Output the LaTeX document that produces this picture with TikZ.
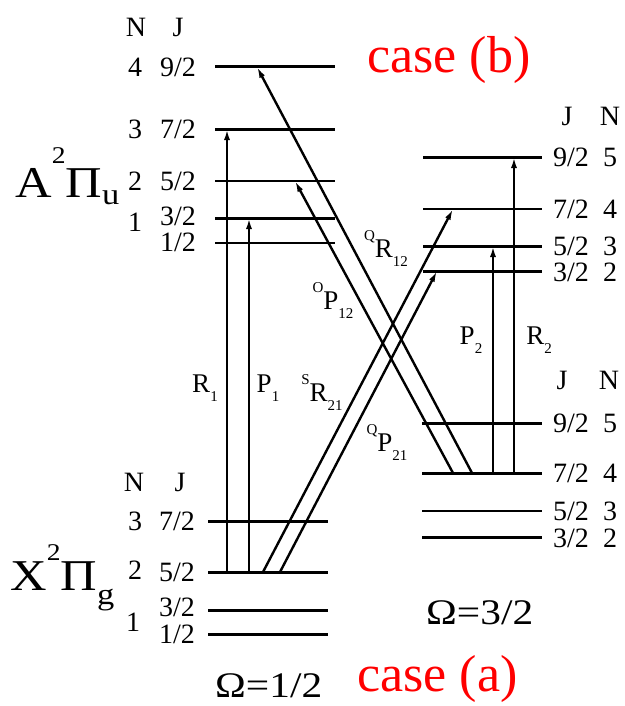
\documentclass[tikz,border=0pt]{standalone}
\usepackage{fontspec}
\setmainfont{Liberation Serif}
\usetikzlibrary{arrows.meta}
\newcommand{\lsup}[1]{\raisebox{17pt}{\fontsize{15}{15}\selectfont #1}}
\newcommand{\lsub}[1]{\raisebox{-9pt}{\fontsize{15}{15}\selectfont #1}}
\tikzset{
  lvl/.style={line width=3pt},
  lvlthin/.style={line width=2pt},
  trans/.style={line width=2.4pt, -{Latex[length=11pt,width=6pt]}},
  qn/.style={font=\fontsize{28}{30}\selectfont, inner sep=0pt},
  branch/.style={font=\fontsize{27}{29}\selectfont, inner sep=0pt},
  term/.style={font=\fontsize{44}{48}\selectfont, inner sep=0pt, xscale=1.15, anchor=base west},
  omega/.style={font=\fontsize{36}{40}\selectfont, inner sep=0pt, xscale=1.15, anchor=base west},
  casetxt/.style={font=\fontsize{52}{56}\selectfont, text=red, inner sep=0pt, anchor=base west}
}
\begin{document}
\begin{tikzpicture}[x=1pt, y=-1pt]
\useasboundingbox (0,0) rectangle (624,706);
% upper state A, Omega=1/2
\draw[lvl] (215,67) -- (335,67);
\draw[lvl] (215,129) -- (335,129);
\draw[lvlthin] (215,181) -- (335,181);
\draw[lvl] (215,218) -- (335,218);
\draw[lvlthin] (215,243) -- (335,243);
% upper state A, Omega=3/2
\draw[lvl] (423,157) -- (542,157);
\draw[lvlthin] (423,209) -- (542,209);
\draw[lvl] (423,246) -- (542,246);
\draw[lvl] (423,271) -- (542,271);
% lower state X, Omega=1/2
\draw[lvl] (208,521) -- (328,521);
\draw[lvl] (208,572) -- (328,572);
\draw[lvl] (208,610) -- (328,610);
\draw[lvl] (208,634) -- (328,634);
% lower state X, Omega=3/2
\draw[lvl] (422,423) -- (542,423);
\draw[lvl] (422,473) -- (542,473);
\draw[lvlthin] (422,511) -- (542,511);
\draw[lvl] (422,537) -- (542,537);

% arrow ends
\coordinate (R1a) at (227,572); \coordinate (R1b) at (227,129);
\coordinate (P1a) at (249,572); \coordinate (P1b) at (249,218);
\coordinate (SR21a) at (263,572); \coordinate (SR21b) at (453,209);
\coordinate (QP21a) at (280,572); \coordinate (QP21b) at (437,271);
\coordinate (QR12a) at (472,473); \coordinate (QR12b) at (257,67);
\coordinate (OP12a) at (453,473); \coordinate (OP12b) at (295,181);
\coordinate (P2a) at (493,473); \coordinate (P2b) at (493,246);
\coordinate (R2a) at (514,473); \coordinate (R2b) at (514,157);
\draw[trans] (R1a) -- (R1b);
\draw[trans] (P1a) -- (P1b);
\draw[trans] (SR21a) -- (SR21b);
\draw[trans] (QP21a) -- (QP21b);
\draw[trans] (QR12a) -- (QR12b);
\draw[trans] (OP12a) -- (OP12b);
\draw[trans] (P2a) -- (P2b);
\draw[trans] (R2a) -- (R2b);

% branch labels
\node[branch] (lR1) at (205,388) {R\lsub{1}};
\node[branch] (lP1) at (268,388) {P\lsub{1}};
\node[branch] (lSR21) at (322,393) {\lsup{S}R\lsub{21}};
\node[branch] (lQP21) at (387,443) {\lsup{Q}P\lsub{21}};
\node[branch] (lOP12) at (333,301) {\lsup{O}P\lsub{12}};
\node[branch] (lQR12) at (386,249) {\lsup{Q}R\lsub{12}};
\node[branch] (lP2) at (471,340) {P\lsub{2}};
\node[branch] (lR2) at (539,340) {R\lsub{2}};

% quantum numbers, left
\node[qn] (hNa) at (136,27) {N}; \node[qn] (hJa) at (178,27) {J};
\node[qn] at (135,67) {4}; \node[qn] at (178,67) {9/2};
\node[qn] at (135,129) {3}; \node[qn] at (178,129) {7/2};
\node[qn] at (135,181) {2}; \node[qn] at (178,181) {5/2};
\node[qn] at (135,222) {1}; \node[qn] at (178,216) {3/2};
\node[qn] at (178,242) {1/2};
\node[qn] (hNb) at (134,482) {N}; \node[qn] (hJb) at (180,482) {J};
\node[qn] at (135,521) {3}; \node[qn] at (177,521) {7/2};
\node[qn] at (135,570) {2}; \node[qn] at (177,572) {5/2};
\node[qn] at (133,622) {1}; \node[qn] at (177,607) {3/2};
\node[qn] at (177,634) {1/2};
% quantum numbers, right
\node[qn] (hJc) at (567,116) {J}; \node[qn] (hNc) at (610,116) {N};
\node[qn] at (571,157) {9/2}; \node[qn] at (610,157) {5};
\node[qn] at (571,209) {7/2}; \node[qn] at (610,209) {4};
\node[qn] at (571,246) {5/2}; \node[qn] at (610,246) {3};
\node[qn] at (571,272) {3/2}; \node[qn] at (610,272) {2};
\node[qn] (hJd) at (562,380) {J}; \node[qn] (hNd) at (609,380) {N};
\node[qn] at (571,423) {9/2}; \node[qn] at (610,423) {5};
\node[qn] at (571,473) {7/2}; \node[qn] at (610,473) {4};
\node[qn] at (571,511) {5/2}; \node[qn] at (610,511) {3};
\node[qn] at (571,538) {3/2}; \node[qn] at (610,538) {2};

% term symbols
\node[term] (Aterm) at (15,197) {A\raisebox{34pt}{\fontsize{24}{24}\selectfont 2}Π\raisebox{-7pt}{\fontsize{30}{30}\selectfont u}};
\node[term] (Xterm) at (10,590) {X\raisebox{30pt}{\fontsize{24}{24}\selectfont 2}Π\raisebox{-14pt}{\fontsize{30}{30}\selectfont g}};
\node[omega] (om1) at (215,697) {Ω=1/2};
\node[omega] (om3) at (426,624) {Ω=3/2};
\node[casetxt] (caseb) at (367,73) {case (b)};
\node[casetxt] (casea) at (357,691) {case (a)};
\end{tikzpicture}
\end{document}
